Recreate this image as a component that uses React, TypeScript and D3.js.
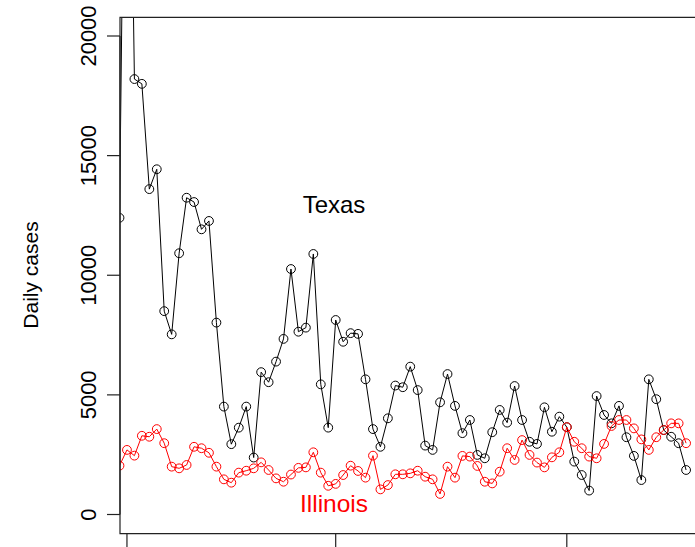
import React from "react";
import * as d3 from "d3";

// Daily reported cases, one value per day starting on the first date below
const firstDay = new Date(2021, 0, 31);

const texasCases = [
  12400, 39500, 18200, 18000, 13600, 14430, 8500, 7530, 10920, 13240,
  13060, 11920, 12270, 8020, 4510, 2940, 3630, 4510, 2380, 5950,
  5530, 6390, 7340, 10260, 7640, 7810, 10890, 5440, 3630, 8130,
  7220, 7580, 7550, 5650, 3570, 2830, 4020, 5390, 5320, 6180,
  5200, 2880, 2700, 4690, 5870, 4540, 3400, 3950, 2490, 2350,
  3440, 4370, 3840, 5370, 3950, 3040, 2950, 4480, 3460, 4090,
  3650, 2210, 1650, 1000, 4950, 4160, 3810, 4540, 3230, 2450,
  1440, 5650, 4820, 3530, 3250, 2980, 1860,
];

const illinoisCases = [
  2040, 2700, 2460, 3290, 3250, 3570, 2980, 2000, 1930, 2070,
  2830, 2770, 2580, 2000, 1470, 1330, 1750, 1830, 1930, 2180,
  1860, 1510, 1370, 1670, 1950, 1970, 2600, 1750, 1200, 1280,
  1650, 2040, 1820, 1540, 2460, 1050, 1230, 1680, 1680, 1720,
  1830, 1580, 1470, 860, 2000, 1540, 2450, 2420, 2030, 1370,
  1300, 1790, 2770, 2280, 3110, 2490, 2170, 1970, 2390, 2600,
  3650, 3040, 2770, 2420, 2350, 2950, 3700, 3950, 3950, 3600,
  3140, 2700, 3230, 3530, 3810, 3810, 2980,
];

const yTicks = [0, 5000, 10000, 15000, 20000];
const yLabel = "Daily cases";
const seriesLabels = ["Texas", "Illinois"];

const W = 695;
const H = 547;
const plot = { left: 120, top: 17.3, right: 760, bottom: 533.7 };
const FONT = "'Liberation Sans', Arial, Helvetica, sans-serif";

export default function App() {
  const dates = texasCases.map((_, i) => d3.timeDay.offset(firstDay, i));

  const x = d3
    .scaleTime()
    .domain([firstDay, d3.timeDay.offset(firstDay, 60)])
    .range([119.5, 566.8]);

  const y = d3.scaleLinear().domain([0, 20000]).range([514.5, 36]);

  const monthTicks = d3
    .timeMonth.range(d3.timeDay.offset(firstDay, 1), d3.timeDay.offset(firstDay, 90))
    .filter((d) => x(d) >= plot.left && x(d) <= plot.right);

  const line = d3
    .line<number>()
    .x((_, i) => x(dates[i]))
    .y((v) => y(v));

  const series = [
    { name: seriesLabels[0], values: texasCases, color: "#000000" },
    { name: seriesLabels[1], values: illinoisCases, color: "#ff0000" },
  ];

  return (
    <svg
      width={W}
      height={H}
      style={{ position: "absolute", left: 0, top: 0, background: "#fff" }}
      fontFamily={FONT}
    >
      <defs>
        <clipPath id="plot-area">
          <rect
            x={plot.left}
            y={plot.top}
            width={plot.right - plot.left}
            height={plot.bottom - plot.top}
          />
        </clipPath>
      </defs>
      <rect x={0} y={0} width={W} height={H} fill="#fff" />

      {/* series */}
      <g clipPath="url(#plot-area)">
        {series.map((s) => (
          <g key={s.name}>
            <path d={line(s.values) ?? ""} fill="none" stroke={s.color} strokeWidth={1} />
            {s.values.map((v, i) => (
              <circle
                key={i}
                cx={x(dates[i])}
                cy={y(v)}
                r={4.4}
                fill="none"
                stroke={s.color}
                strokeWidth={1}
              />
            ))}
          </g>
        ))}
      </g>

      {/* frame */}
      <path
        d={`M${plot.right},${plot.top}H${plot.left}V${plot.bottom}H${plot.right}`}
        fill="none"
        stroke="#222"
        strokeWidth={1.2}
      />

      {/* y axis */}
      <g>
        <line x1={plot.left} x2={plot.left} y1={y(0)} y2={y(20000)} stroke="#222" strokeWidth={1.2} />
        {yTicks.map((t) => (
          <g key={t}>
            <line x1={107} x2={plot.left} y1={y(t)} y2={y(t)} stroke="#222" strokeWidth={1.2} />
            <text
              transform={`translate(96,${y(t)}) rotate(-90)`}
              textAnchor="middle"
              fontSize={22}
              fill="#000"
            >
              {t}
            </text>
          </g>
        ))}
      </g>

      {/* x axis ticks */}
      {monthTicks.map((d) => (
        <line
          key={+d}
          x1={x(d)}
          x2={x(d)}
          y1={plot.bottom}
          y2={plot.bottom + 14}
          stroke="#222"
          strokeWidth={1.2}
        />
      ))}

      <text
        transform={`translate(38,275) rotate(-90)`}
        textAnchor="middle"
        fontSize={21}
        fill="#000"
      >
        {yLabel}
      </text>

      <text x={334} y={212.7} textAnchor="middle" fontSize={24} fill="#000">
        {seriesLabels[0]}
      </text>
      <text x={334} y={511.7} textAnchor="middle" fontSize={24.5} fill="#ff0000">
        {seriesLabels[1]}
      </text>
    </svg>
  );
}
